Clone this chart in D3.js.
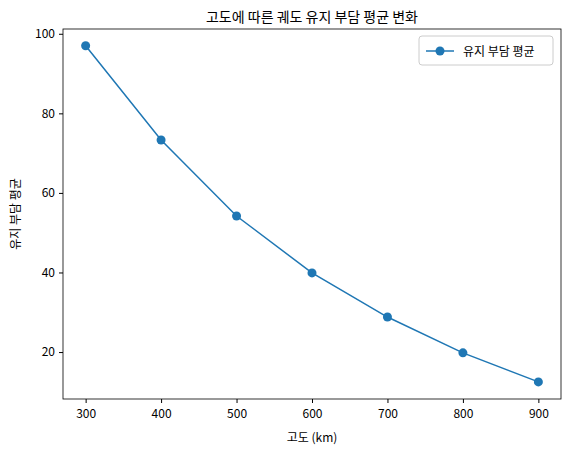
<!DOCTYPE html>
<html><head><meta charset="utf-8">
<script src="https://cdn.jsdelivr.net/npm/d3@7"></script>
<style>body{margin:0;background:#fff}text{font-family:"Noto Sans CJK KR","Noto Sans",sans-serif}</style>
</head><body><div id="chart"></div>
<script>
const altitudes = [300, 400, 500, 600, 700, 800, 900];
const burden = [97.0, 73.3, 54.2, 39.9, 28.8, 19.8, 12.5];
const yTicks = [20, 40, 60, 80, 100];

const width = 568, height = 454;
const m = {left: 63, right: 561, top: 29, bottom: 399};

const x = d3.scaleLinear().domain([270, 930]).range([m.left, m.right]);
const y = d3.scaleLinear().domain([8.2, 101.2]).range([m.bottom, m.top]);

const svg = d3.select("#chart").append("svg").attr("width", width).attr("height", height);

svg.append("g").attr("transform", `translate(0,${m.bottom})`)
  .call(d3.axisBottom(x).tickValues(altitudes).tickSize(4).tickPadding(6))
  .call(g => g.selectAll("text").attr("font-size", 12).attr("fill", "#000"));
svg.append("g").attr("transform", `translate(${m.left},0)`)
  .call(d3.axisLeft(y).tickValues(yTicks).tickSize(4).tickPadding(4))
  .call(g => g.selectAll("text").attr("font-size", 12).attr("fill", "#000"));
svg.selectAll(".domain").remove();
svg.append("rect").attr("x", m.left).attr("y", m.top).attr("width", m.right - m.left)
  .attr("height", m.bottom - m.top).attr("fill", "none").attr("stroke", "#000").attr("stroke-width", 0.8);

const line = d3.line().x((d, i) => x(altitudes[i])).y(d => y(d));
svg.append("path").datum(burden).attr("d", line).attr("fill", "none")
  .attr("stroke", "#1f77b4").attr("stroke-width", 1.5);
svg.selectAll("circle.pt").data(burden).join("circle").attr("class", "pt")
  .attr("cx", (d, i) => x(altitudes[i])).attr("cy", d => y(d)).attr("r", 4.5).attr("fill", "#1f77b4");

svg.append("text").attr("x", (m.left + m.right) / 2).attr("y", 22).attr("text-anchor", "middle")
  .attr("font-size", 14).text("고도에 따른 궤도 유지 부담 평균 변화");
svg.append("text").attr("x", (m.left + m.right) / 2).attr("y", 442).attr("text-anchor", "middle")
  .attr("font-size", 12).text("고도 (km)");
svg.append("text").attr("transform", `translate(20,${(m.top + m.bottom) / 2}) rotate(-90)`)
  .attr("text-anchor", "middle").attr("font-size", 12).text("유지 부담 평균");

const lg = svg.append("g").attr("transform", "translate(419,36)");
lg.append("rect").attr("width", 134).attr("height", 29).attr("rx", 3).attr("fill", "#fff")
  .attr("stroke", "#ccc");
lg.append("line").attr("x1", 7).attr("x2", 35).attr("y1", 15).attr("y2", 15)
  .attr("stroke", "#1f77b4").attr("stroke-width", 1.5);
lg.append("circle").attr("cx", 21).attr("cy", 15).attr("r", 4.5).attr("fill", "#1f77b4");
lg.append("text").attr("x", 44).attr("y", 19.5).attr("font-size", 12).text("유지 부담 평균");
</script></body></html>
